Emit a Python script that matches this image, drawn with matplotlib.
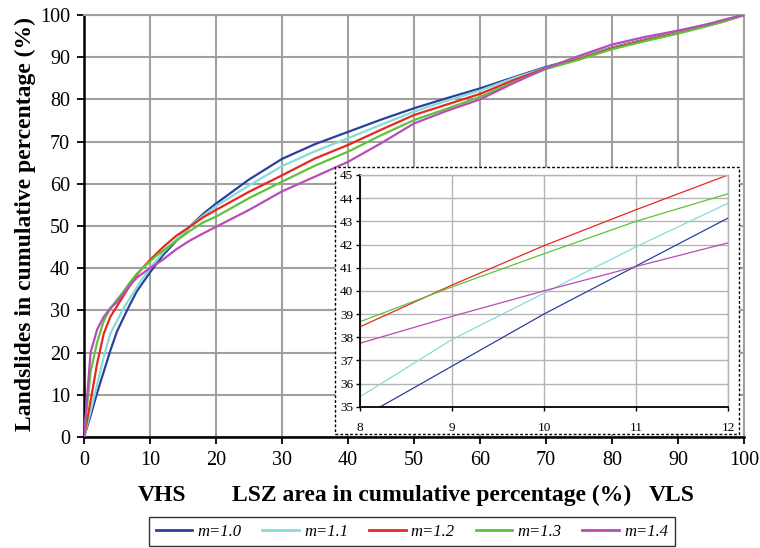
import numpy as np
import matplotlib
matplotlib.use("Agg")
from matplotlib import pyplot as plt
from matplotlib.patches import Rectangle

plt.rcParams['font.family'] = ['Liberation Serif', 'DejaVu Serif']

# cumulative LSZ area (%)
area = [0, 1, 2, 3, 4, 5, 6, 7, 8, 9, 10, 11, 12, 14, 16, 18, 20, 25, 30,
        35, 40, 45, 50, 55, 60, 65, 70, 75, 80, 85, 90, 95, 97, 100]

# cumulative landslides (%) for each m
m10 = [0, 5.0, 10.5, 15.5, 20.5, 25.0, 28.3, 31.5, 34.5, 36.75, 39.0, 41.07, 43.14,
       46.5, 49.8, 52.8, 55.3, 61.0, 65.9, 69.4, 72.3, 75.2, 77.9, 80.3, 82.6,
       85.2, 87.7, 89.8, 92.3, 94.2, 96.0, 98.0, 98.8, 100]
m11 = [0, 6.0, 12.5, 19.0, 24.5, 27.5, 30.5, 33.0, 35.43, 37.9, 39.9, 41.9, 43.78,
       46.8, 49.8, 52.4, 54.7, 59.6, 64.2, 67.7, 70.8, 74.0, 77.1, 79.7, 82.1,
       85.0, 87.5, 89.8, 92.2, 94.1, 95.9, 97.9, 98.7, 100]
m12 = [0, 8.5, 17.5, 24.5, 28.5, 31.0, 33.5, 36.0, 38.45, 40.25, 41.95, 43.5, 45.0,
       47.7, 49.8, 52.0, 53.8, 58.1, 62.0, 66.0, 69.2, 72.8, 76.3, 78.8, 81.3,
       84.5, 87.4, 89.6, 92.1, 94.0, 95.7, 97.7, 98.5, 100]
m13 = [0, 15.5, 22.5, 27.5, 30.5, 32.5, 34.5, 36.7, 38.67, 40.17, 41.6, 43.0, 44.19,
       46.5, 48.8, 50.8, 52.2, 56.6, 60.5, 64.3, 67.6, 71.5, 75.1, 77.8, 80.6,
       84.0, 87.2, 89.4, 91.9, 93.8, 95.6, 97.6, 98.5, 100]
m14 = [0, 20.0, 25.5, 28.5, 30.5, 32.0, 34.0, 36.0, 37.74, 38.9, 40.0, 41.05, 42.07,
       44.5, 46.5, 48.2, 49.8, 53.8, 58.2, 61.7, 65.2, 69.6, 74.3, 77.3, 80.0,
       83.8, 87.4, 90.3, 93.0, 94.8, 96.3, 98.0, 98.9, 100]

series = [m10, m11, m12, m13, m14]
names = ["m=1.0", "m=1.1", "m=1.2", "m=1.3", "m=1.4"]
colors = ["#2b3f9e", "#86dcd6", "#e8281e", "#5cc43a", "#b84cb8"]

grid_col = "#a0a0a0"

fig = plt.figure(figsize=(7.6, 5.48), dpi=100)
ax = fig.add_axes([0.1105, 0.2026, 0.8684, 0.77])

for vals, nm, c in zip(series, names, colors):
    ax.plot(area, vals, color=c, lw=1.6, label=nm, zorder=3)

ax.set_xlim(0, 100)
ax.set_ylim(0, 100)
ax.set_xticks(np.arange(0, 101, 10))
ax.set_yticks(np.arange(0, 101, 10))
ax.grid(True, color=grid_col, lw=1.5)
ax.set_axisbelow(True)
for s in ["left", "bottom"]:
    ax.spines[s].set_color("black")
    ax.spines[s].set_linewidth(1.8)
for s in ["top", "right"]:
    ax.spines[s].set_color(grid_col)
    ax.spines[s].set_linewidth(1.5)
ax.tick_params(direction="out", length=5, width=1.3, labelsize=14.5, pad=5)

# dashed box behind the inset
box = Rectangle((0.4408, 0.208), 0.5316, 0.488, transform=fig.transFigure,
                facecolor="white", edgecolor="black", lw=1.0,
                linestyle=(0, (2, 1.5)), clip_on=False, zorder=10)
ax.add_patch(box)

# inset zoom on 8-12 %
axin = fig.add_axes([0.4737, 0.2578, 0.4842, 0.4229])
for vals, c in zip(series, colors):
    axin.plot(area, vals, color=c, lw=0.9)
axin.set_xlim(8, 12)
axin.set_ylim(35, 45)
axin.set_xticks([8, 9, 10, 11, 12])
axin.set_yticks(np.arange(35, 46, 1))
axin.grid(True, color="#b4b4b4", lw=1.0)
axin.set_axisbelow(True)
for s in ["left", "bottom"]:
    axin.spines[s].set_color("black")
    axin.spines[s].set_linewidth(1.3)
for s in ["top", "right"]:
    axin.spines[s].set_color("#b4b4b4")
    axin.spines[s].set_linewidth(1.0)
axin.tick_params(axis="y", direction="out", length=3, width=1, labelsize=9.5, pad=2)
axin.tick_params(axis="x", direction="out", length=3, width=1, labelsize=9.5, pad=8)

# axis titles
fig.text(0.0336, 0.591, "Landslides in cumulative percentage (%)", rotation=90,
         ha="center", va="center", fontsize=17, fontweight="bold")
fig.text(0.568, 0.0967, "LSZ area in cumulative percentage (%)",
         ha="center", va="center", fontsize=17, fontweight="bold")
fig.text(0.2125, 0.0967, "VHS", ha="center", va="center", fontsize=17, fontweight="bold")
fig.text(0.884, 0.0967, "VLS", ha="center", va="center", fontsize=17, fontweight="bold")

handles, labels = ax.get_legend_handles_labels()
leg = fig.legend(handles, labels, loc="center", bbox_to_anchor=(0.542, 0.030),
                 ncol=5, fancybox=False, frameon=True, edgecolor="black",
                 prop={"style": "italic", "size": 12}, handlelength=2.2,
                 handletextpad=0.3, columnspacing=1.25, borderpad=0.4)
leg.get_frame().set_linewidth(1.0)
for ln in leg.get_lines():
    ln.set_linewidth(2)

fig.savefig("out.png", dpi=100)
